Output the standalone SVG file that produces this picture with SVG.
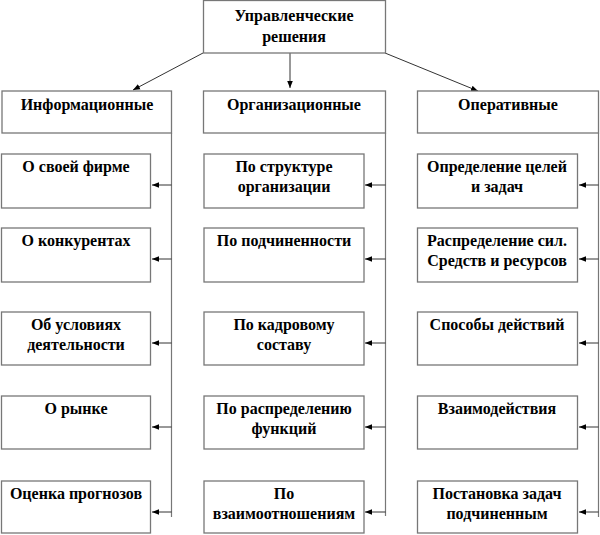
<svg xmlns="http://www.w3.org/2000/svg" width="600" height="535" viewBox="0 0 600 535">
<defs>
<marker id="ah" viewBox="0 0 10 10" refX="10" refY="5" markerWidth="7" markerHeight="7" markerUnits="userSpaceOnUse" orient="auto">
<path d="M0,1 L10,5 L0,9 Z" fill="#000"/>
</marker>
<style>
.box{fill:#fff;stroke:#777;stroke-width:1.3}
.t{font-family:"Liberation Serif","Times New Roman",serif;font-weight:bold;font-size:16px;fill:#000;text-anchor:middle}
.ln{fill:none;stroke:#777;stroke-width:1.2}
.ar{fill:none;stroke:#333;stroke-width:1;marker-end:url(#ah)}
</style>
</defs>
<rect width="600" height="535" fill="#fff"/>

<g id="connectors">
<line class="ar" x1="203" y1="53" x2="133" y2="90"/>
<line class="ar" x1="290" y1="53" x2="290" y2="88"/>
<line class="ar" x1="385" y1="53" x2="478" y2="91"/>
<line class="ln" x1="171.5" y1="133" x2="171.5" y2="517"/>
<line class="ln" x1="385.5" y1="133" x2="385.5" y2="516"/>
<line class="ln" x1="598.5" y1="133" x2="598.5" y2="517"/>
<line class="ar" x1="171.5" y1="185" x2="152" y2="185"/>
<line class="ar" x1="171.5" y1="259" x2="152" y2="259"/>
<line class="ar" x1="171.5" y1="343" x2="152" y2="343"/>
<line class="ar" x1="171.5" y1="427" x2="152" y2="427"/>
<line class="ar" x1="171.5" y1="512" x2="152" y2="512"/>
<line class="ar" x1="385.5" y1="185" x2="365" y2="185"/>
<line class="ar" x1="385.5" y1="259" x2="365" y2="259"/>
<line class="ar" x1="385.5" y1="343" x2="365" y2="343"/>
<line class="ar" x1="385.5" y1="427" x2="365" y2="427"/>
<line class="ar" x1="385.5" y1="512" x2="365" y2="512"/>
<line class="ar" x1="598.5" y1="185" x2="579" y2="185"/>
<line class="ar" x1="598.5" y1="259" x2="579" y2="259"/>
<line class="ar" x1="598.5" y1="343" x2="579" y2="343"/>
<line class="ar" x1="598.5" y1="427" x2="579" y2="427"/>
<line class="ar" x1="598.5" y1="512" x2="579" y2="512"/>
</g>

<g id="root"><rect class="box" x="203.5" y="0.5" width="182" height="52.5"/>
<text class="t" x="294" y="21">Управленческие</text><text class="t" x="294" y="42">решения</text></g>

<g id="info"><rect class="box" x="2" y="91" width="169.5" height="42"/><text class="t" x="87" y="110">Информационные</text></g>
<g id="org"><rect class="box" x="203.5" y="91" width="182" height="42"/><text class="t" x="294" y="110">Организационные</text></g>
<g id="oper"><rect class="box" x="417.5" y="91" width="181" height="42"/><text class="t" x="508" y="110">Оперативные</text></g>

<g id="l1"><rect class="box" x="1.5" y="154" width="149" height="54"/><text class="t" x="76" y="172">О своей фирме</text></g>
<g id="l2"><rect class="box" x="1.5" y="228" width="149" height="54"/><text class="t" x="76" y="246">О конкурентах</text></g>
<g id="l3"><rect class="box" x="1.5" y="312" width="149" height="53"/><text class="t" x="76" y="330">Об условиях</text><text class="t" x="76" y="350">деятельности</text></g>
<g id="l4"><rect class="box" x="1.5" y="396" width="149" height="53"/><text class="t" x="76" y="414">О рынке</text></g>
<g id="l5"><rect class="box" x="1.5" y="481" width="149" height="52"/><text class="t" x="76" y="499">Оценка прогнозов</text></g>

<g id="m1"><rect class="box" x="204" y="154" width="160" height="54"/><text class="t" x="284" y="172">По структуре</text><text class="t" x="284" y="192">организации</text></g>
<g id="m2"><rect class="box" x="204" y="228" width="160" height="54"/><text class="t" x="284" y="246">По подчиненности</text></g>
<g id="m3"><rect class="box" x="204" y="312" width="160" height="53"/><text class="t" x="284" y="330">По кадровому</text><text class="t" x="284" y="350">составу</text></g>
<g id="m4"><rect class="box" x="204" y="396" width="160" height="53"/><text class="t" x="284" y="414">По распределению</text><text class="t" x="284" y="434">функций</text></g>
<g id="m5"><rect class="box" x="204" y="481" width="160" height="52"/><text class="t" x="284" y="499">По</text><text class="t" x="284" y="519">взаимоотношениям</text></g>

<g id="r1"><rect class="box" x="417.5" y="154" width="160" height="54"/><text class="t" x="497" y="172">Определение целей</text><text class="t" x="497" y="192">и задач</text></g>
<g id="r2"><rect class="box" x="417.5" y="228" width="160" height="54"/><text class="t" x="497" y="246">Распределение сил.</text><text class="t" x="497" y="266">Средств и ресурсов</text></g>
<g id="r3"><rect class="box" x="417.5" y="312" width="160" height="53"/><text class="t" x="497" y="330">Способы действий</text></g>
<g id="r4"><rect class="box" x="417.5" y="396" width="160" height="53"/><text class="t" x="497" y="414">Взаимодействия</text></g>
<g id="r5"><rect class="box" x="417.5" y="481" width="160" height="52"/><text class="t" x="497" y="499">Постановка задач</text><text class="t" x="497" y="519">подчиненным</text></g>
</svg>
